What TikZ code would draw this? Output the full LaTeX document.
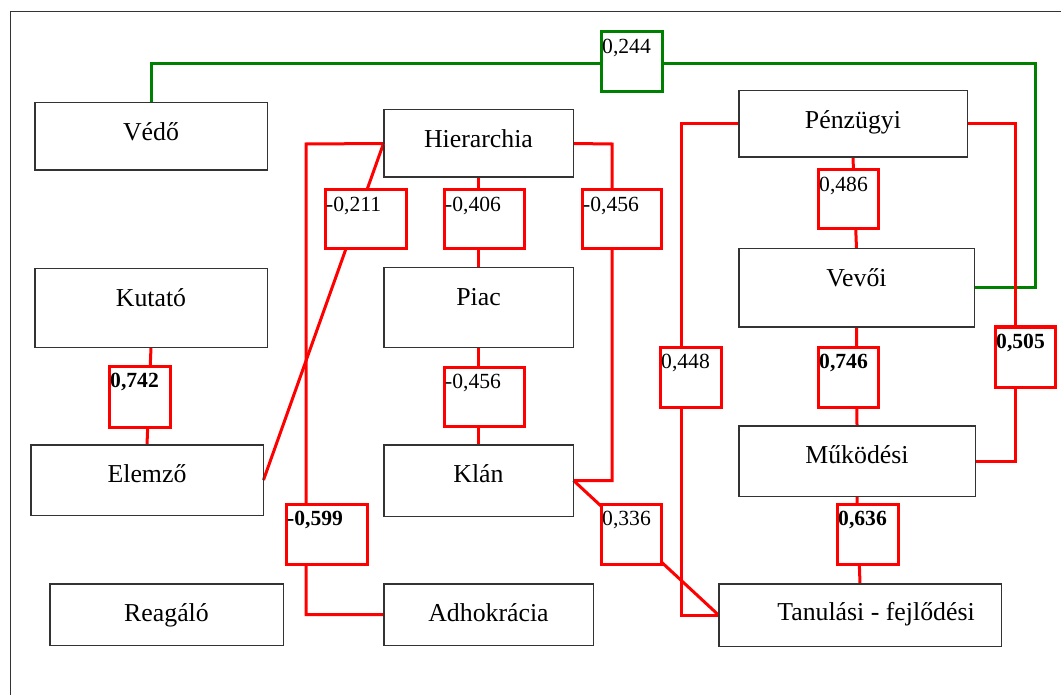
\documentclass[tikz,border=0pt]{standalone}
\usepackage{fontspec}
\setmainfont{Liberation Serif}
\usetikzlibrary{fit}
\definecolor{linkred}{RGB}{255,0,0}
\definecolor{linkgreen}{RGB}{0,128,0}
\tikzset{
  nodebox/.style={draw=black!80, line width=1pt, fill=white, inner sep=0pt},
  nodetext/.style={anchor=base, inner sep=0pt, font=\fontsize{25.8}{30}\selectfont},
  lblbox/.style={line width=3pt, fill=white, inner sep=0pt},
  lbltext/.style={anchor=base west, inner sep=0pt, font=\fontsize{21.6}{26}\selectfont},
  redlink/.style={draw=linkred, line width=3pt},
  greenlink/.style={draw=linkgreen, line width=3pt},
}
\newcommand\mybox[6]{%
  \node[nodebox, fit={(#2,#3) (#4,#5)}] (#1) {};
  \node[nodetext] (#1-t) at ([yshift=-38pt]#1.north) {#6};
}
\newcommand\mylbl[7]{%
  \node[lblbox, draw=#6, fit={(#2,#3) (#4,#5)}] (#1) {};
  \node[lbltext] (#1-t) at ([xshift=2.5pt,yshift=-23pt]#1.north west) {#7};
}
\begin{document}
\begin{tikzpicture}[x=1pt,y=-1pt]
\useasboundingbox (0,0) rectangle (1061,695);
\fill[white] (0,0) rectangle (1061,695);
\draw[black!80, line width=1pt] (10.5,695) -- (10.5,11.5) -- (1061,11.5);

% main boxes
\mybox{vedo}{35}{103}{267}{170}{Védő}
\mybox{kutato}{35}{269}{267}{347}{Kutató}
\mybox{elemzo}{31}{445}{263}{515}{Elemző}
\mybox{reagalo}{50}{584}{283}{645}{Reagáló}
\mybox{hier}{384}{110}{573}{177}{Hierarchia}
\mybox{piac}{384}{268}{573}{347}{Piac}
\mybox{klan}{384}{445}{573}{516}{Klán}
\mybox{adho}{384}{584}{593}{645}{Adhokrácia}
\mybox{penz}{739}{91}{967}{157}{Pénzügyi}
\mybox{vevoi}{739}{249}{974}{327}{Vevői}
\mybox{mukod}{739}{426}{975}{496}{Működési}
\node[nodebox, fit={(719,584) (1001,646)}] (tanul) {};
\node[nodetext] (tanul-t) at ([xshift=16pt,yshift=-37pt]tanul.north) {Tanulási - fejlődési};

% connectors
\draw[greenlink] (vedo.north) |- (1035,64) |- (vevoi.east);
\draw[redlink] (hier.west) -- (306,144) |- (adho.west);
\draw[redlink] (hier.west) -- (elemzo.east);
\draw[redlink] (hier.south) -- (piac.north);
\draw[redlink] (hier.east) -- (612,144) |- (klan.east);
\draw[redlink] (piac.south) -- (klan.north);
\draw[redlink] (klan.east) -- (tanul.west);
\draw[redlink] (kutato.south) -- (elemzo.north);
\draw[redlink] (penz.west) -- (681,124) |- (tanul.west);
\draw[redlink] (penz.east) -- (1015,124) |- (mukod.east);
\draw[redlink] (penz.south) -- (vevoi.north);
\draw[redlink] (vevoi.south) -- (mukod.north);
\draw[redlink] (mukod.south) -- (tanul.north);

% redraw box borders over connector ends
\foreach \n in {vedo,kutato,elemzo,reagalo,hier,piac,klan,adho,penz,vevoi,mukod,tanul}
  \draw[black!80, line width=1pt] (\n.north west) rectangle (\n.south east);

% label boxes
\mylbl{l244}{601}{32}{662}{92}{linkgreen}{0,244}
\mylbl{l211}{325}{190}{406}{249}{linkred}{-0,211}
\mylbl{l406}{444}{190}{524}{249}{linkred}{-0,406}
\mylbl{l456a}{582}{190}{661}{249}{linkred}{-0,456}
\mylbl{l456b}{444}{367}{524}{426}{linkred}{-0,456}
\mylbl{l486}{818}{170}{878}{229}{linkred}{0,486}
\mylbl{l742}{109}{366}{170}{427}{linkred}{\textbf{0,742}}
\mylbl{l599}{286}{504}{367}{564}{linkred}{\textbf{-0,599}}
\mylbl{l448}{660}{347}{721}{407}{linkred}{0,448}
\mylbl{l746}{818}{347}{878}{407}{linkred}{\textbf{0,746}}
\mylbl{l505}{995}{327}{1055}{387}{linkred}{\textbf{0,505}}
\mylbl{l336}{601}{504}{661}{564}{linkred}{0,336}
\mylbl{l636}{837}{504}{898}{564}{linkred}{\textbf{0,636}}
\end{tikzpicture}
\end{document}
